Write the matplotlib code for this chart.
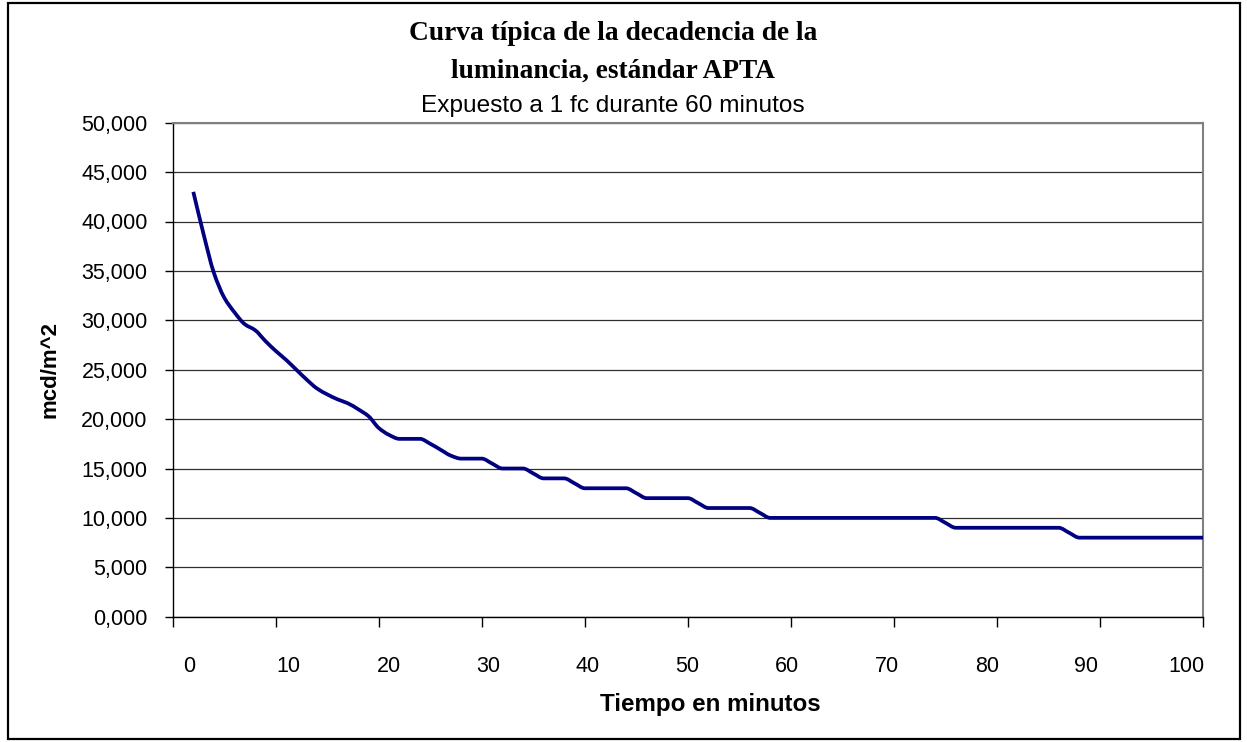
import matplotlib.pyplot as plt
from matplotlib.patches import Rectangle, PathPatch
from matplotlib.path import Path
from matplotlib.ticker import FuncFormatter, MultipleLocator, FixedLocator

# minutes after the light source is removed
minutes = list(range(2, 101))

# luminance in mcd/m^2 (one value per minute)
luminance = [
    43.0, 38.7, 34.8, 32.3, 30.8, 29.6, 29.0, 27.9, 26.9,             # 2-10
    26.0, 25.0, 24.0, 23.1, 22.5, 22.0, 21.6, 21.0, 20.3, 19.1,       # 11-20
    18.4, 18.0, 18.0, 18.0, 17.5, 16.9, 16.3, 16.0, 16.0, 16.0,       # 21-30
    15.5, 15.0, 15.0, 15.0, 14.5, 14.0, 14.0, 14.0, 13.5, 13.0,       # 31-40
    13.0, 13.0, 13.0, 13.0, 12.5, 12.0, 12.0, 12.0, 12.0, 12.0,       # 41-50
    11.5, 11.0, 11.0, 11.0, 11.0, 11.0, 10.5, 10.0, 10.0, 10.0,       # 51-60
    10.0, 10.0, 10.0, 10.0, 10.0, 10.0, 10.0, 10.0, 10.0, 10.0,       # 61-70
    10.0, 10.0, 10.0, 10.0, 9.5, 9.0, 9.0, 9.0, 9.0, 9.0,             # 71-80
    9.0, 9.0, 9.0, 9.0, 9.0, 9.0, 8.5, 8.0, 8.0, 8.0,                 # 81-90
    8.0, 8.0, 8.0, 8.0, 8.0, 8.0, 8.0, 8.0, 8.0, 8.0,                 # 91-100
]

x_ticks = list(range(0, 101, 10))

title_1 = "Curva típica de la decadencia de la"
title_2 = "luminancia, estándar APTA"
subtitle = "Expuesto a 1 fc durante 60 minutos"

sans = "Liberation Sans"
serif = "Liberation Serif"


def smooth_path(xs, ys):
    # smoothed line through every point, monotone so plateaus stay flat
    n = len(xs)
    d = [(ys[i + 1] - ys[i]) / (xs[i + 1] - xs[i]) for i in range(n - 1)]
    m = [d[0]]
    for i in range(1, n - 1):
        if d[i - 1] * d[i] <= 0:
            m.append(0.0)
        else:
            m.append(2 / (1 / d[i - 1] + 1 / d[i]))
    m.append(d[-1])
    verts = [(xs[0], ys[0])]
    codes = [Path.MOVETO]
    for i in range(n - 1):
        h = xs[i + 1] - xs[i]
        verts += [(xs[i] + h / 3, ys[i] + m[i] * h / 3),
                  (xs[i + 1] - h / 3, ys[i + 1] - m[i + 1] * h / 3),
                  (xs[i + 1], ys[i + 1])]
        codes += [Path.CURVE4] * 3
    return Path(verts, codes)


W, H = 1247, 742
fig = plt.figure(figsize=(W / 100, H / 100), dpi=100)

# outer chart border
fig.patches.append(Rectangle((8 / W, 3 / H), (1240 - 8) / W, (739 - 3) / H,
                             transform=fig.transFigure, fill=False,
                             edgecolor="black", linewidth=1.6))

left, right, top, bottom = 172.7, 1203.0, 122.7, 616.7
ax = fig.add_axes([left / W, 1 - bottom / H, (right - left) / W, (bottom - top) / H])

ax.add_patch(PathPatch(smooth_path(minutes, luminance), facecolor="none",
                       edgecolor="#000080", linewidth=2.7, joinstyle="round",
                       capstyle="butt", zorder=3))

ax.set_xlim(0, 100)
ax.set_ylim(0, 50)

# tick marks every 10 minutes; Excel drew the labels a bit off the marks
ax.xaxis.set_minor_locator(FixedLocator(x_ticks))
ax.set_xticks([1.6 + t * 0.9675 for t in x_ticks])
ax.set_xticklabels([str(t) for t in x_ticks])

ax.yaxis.set_major_locator(MultipleLocator(5))
ax.yaxis.set_major_formatter(FuncFormatter(lambda v, p: f"{v:,.3f}".replace(".", ",")))

ax.grid(axis="y", color="#303030", linewidth=0.9)
ax.set_axisbelow(True)

for side in ("top", "right"):
    ax.spines[side].set_color("#808080")
    ax.spines[side].set_linewidth(1.5)
for side in ("left", "bottom"):
    ax.spines[side].set_color("black")
    ax.spines[side].set_linewidth(1.0)

ax.tick_params(axis="y", direction="out", length=6, width=1, pad=12,
               labelsize=15.5, labelfontfamily=sans)
ax.tick_params(axis="x", which="major", length=0, pad=28,
               labelsize=15.5, labelfontfamily=sans)
ax.tick_params(axis="x", which="minor", direction="out", length=7, width=1)

fig.text(613 / W, 1 - 34 / H, title_1, ha="center", va="center",
         family=serif, weight="bold", fontsize=19.7)
fig.text(613 / W, 1 - 71 / H, title_2, ha="center", va="center",
         family=serif, weight="bold", fontsize=19.7)
fig.text(613 / W, 1 - 106 / H, subtitle, ha="center", va="center",
         family=sans, fontsize=17.6)
fig.text(710 / W, 1 - 705 / H, "Tiempo en minutos", ha="center", va="center",
         family=sans, weight="bold", fontsize=17.4)
fig.text(50 / W, 1 - 370 / H, "mcd/m^2", ha="center", va="center",
         rotation=90, family=sans, weight="bold", fontsize=16)

fig.savefig("out.png", dpi=100)
